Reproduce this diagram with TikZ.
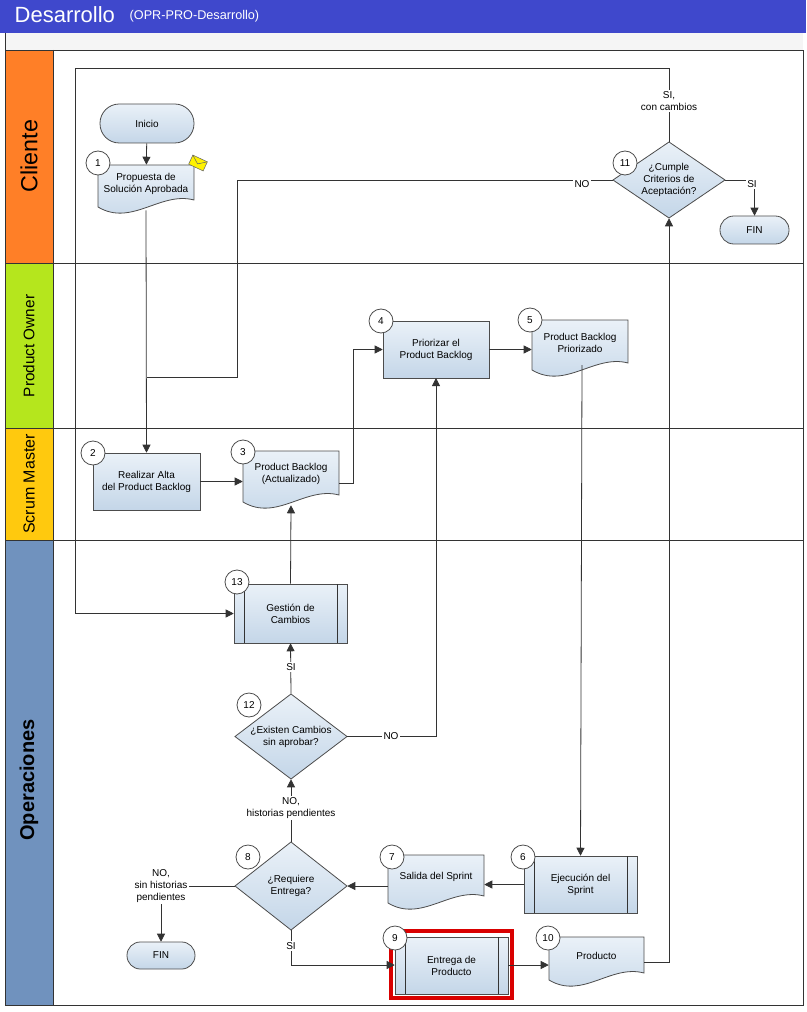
\documentclass[tikz,border=0pt]{standalone}
\usepackage{fontspec}
\setmainfont{Liberation Sans}
\usetikzlibrary{arrows.meta,fit,calc}
\definecolor{hdr}{HTML}{3F48CC}
\definecolor{cOr}{HTML}{FF7F27}
\definecolor{cGr}{HTML}{B5E61D}
\definecolor{cYe}{HTML}{FFC90E}
\definecolor{cBl}{HTML}{7092BE}
\definecolor{sfA}{HTML}{EAF1F8}
\definecolor{sfB}{HTML}{C4D6E8}
\tikzset{
 shp/.style={draw=black!70, line width=0.6pt, top color=sfA, bottom color=sfB},
 txt/.style={font=\fontsize{7.5}{9}\selectfont, align=center, inner sep=0},
 num/.style={circle, draw=black!70, fill=white, minimum size=18pt, inner sep=0, font=\fontsize{7.5}{9}\selectfont, line width=0.6pt},
 conn/.style={draw=black!80, line width=0.6pt, -{Triangle[length=6pt,width=6pt]}},
 line/.style={draw=black!80, line width=0.6pt},
 lbl/.style={txt, fill=white, inner sep=1pt},
 box/.style={fit={#1}, inner sep=0, draw=none},
}
% doc: name, x1,y1,x2,y2(wave start), text
\newcommand\docnode[6]{%
 \path[shp] (#2,#3) -- (#2,#5) .. controls ({#2+(#4-#2)*0.35},{#5+20}) and ({#2+(#4-#2)*0.65},{#5-16}) .. (#4,{#5-7}) -- (#4,#3) -- cycle;
 \node[box={(#2,#3)(#4,{#5+3})}] (#1) {};
 \node[txt] at ($(#1.center)+(0,-4)$) {#6};}
\newcommand\procnode[6]{%
 \path[shp] (#2,#3) rectangle (#4,#5);
 \node[box={(#2,#3)(#4,#5)}] (#1) {};
 \node[txt] at (#1.center) {#6};}
\newcommand\subnode[6]{%
 \path[shp] (#2,#3) rectangle (#4,#5);
 \draw[line] ({#2+10},#3) -- ({#2+10},#5) ({#4-10},#3) -- ({#4-10},#5);
 \node[box={(#2,#3)(#4,#5)}] (#1) {};
 \node[txt] at (#1.center) {#6};}
\newcommand\dianode[6]{%
 \path[shp] (#2,{(#3+#5)/2}) -- ({(#2+#4)/2},#3) -- (#4,{(#3+#5)/2}) -- ({(#2+#4)/2},#5) -- cycle;
 \node[box={(#2,#3)(#4,#5)}] (#1) {};
 \node[txt] at (#1.center) {#6};}
\newcommand\termnode[6]{%
 \path[shp, rounded corners={(#5-#3)*0.37pt}] (#2,#3) rectangle (#4,#5);
 \node[box={(#2,#3)(#4,#5)}] (#1) {};
 \node[txt] at (#1.center) {#6};}
\begin{document}
\begin{tikzpicture}[x=0.75pt,y=-0.75pt]
\useasboundingbox (0,0) rectangle (806,1012);
% header
\fill[hdr] (0,0) rectangle (806,33);
\node[anchor=west, text=white, font=\fontsize{16.5}{18}\selectfont] at (10,15) {Desarrollo};
\node[anchor=west, text=white, font=\fontsize{9.5}{11}\selectfont] at (125,16) {(OPR-PRO-Desarrollo)};
\fill[black!4] (5,33) rectangle (803,50);
\draw[line] (5,33) -- (5,1005);
% lanes
\fill[cOr] (5,50) rectangle (53,263);
\fill[cGr] (5,263) rectangle (53,428);
\fill[cYe] (5,428) rectangle (53,540);
\fill[cBl] (5,540) rectangle (53,1005);
\draw[line] (5,50) rectangle (803,1005);
\draw[line] (53,50) -- (53,1005);
\foreach \yy in {263,428,540} \draw[line] (5,\yy) -- (803,\yy);
\node[rotate=90, font=\fontsize{17.5}{20}\selectfont] (lc) at (29,156) {Cliente};
\node[rotate=90, font=\fontsize{11.5}{14}\selectfont] (lp) at (29,346) {Product Owner};
\node[rotate=90, font=\fontsize{12}{14}\selectfont] (ls) at (29,484) {Scrum Master};
\node[rotate=90, font=\bfseries\fontsize{15}{18}\selectfont] (lo) at (29,780) {Operaciones};
% shapes
\termnode{ini}{100}{104}{194}{143}{Inicio}
\docnode{d1}{98}{165}{194}{207}{Propuesta de\\Solución Aprobada}
\dianode{c11}{613}{142}{725}{218}{¿Cumple\\Criterios de\\Aceptación?}
\termnode{fin1}{720}{216}{789}{244}{FIN}
\procnode{p4}{383}{321}{489}{378}{Priorizar el\\Product Backlog}
\docnode{d5}{532}{320}{628}{370}{Product Backlog\\Priorizado}
\procnode{p2}{93}{453}{200}{510}{Realizar Alta\\del Product Backlog}
\docnode{d3}{243}{451}{339}{502}{Product Backlog\\(Actualizado)}
\subnode{s13}{234}{584}{347}{643}{Gestión de\\Cambios}
\dianode{c12}{235}{694}{347}{779}{¿Existen Cambios\\sin aprobar?}
\dianode{c8}{235}{842}{347}{930}{¿Requiere\\Entrega?}
\docnode{d7}{388}{855}{484}{903}{Salida del Sprint}
\subnode{s6}{524}{856}{637}{913}{Ejecución del\\Sprint}
\termnode{fin2}{127}{942}{195}{969}{FIN}
\subnode{s9}{395}{937}{508}{994}{Entrega de\\Producto}
\docnode{d10}{549}{937}{644}{980}{Producto}
\draw[red!85!black, line width=3pt] (391,931) rectangle (512,998);
% envelope
\begin{scope}[shift={(198,163)}, rotate=-25]
\draw[fill=yellow, draw=black!60, line width=0.4pt] (-8,-5) rectangle (8,5);
\draw[draw=black!60, line width=0.4pt] (-8,-5) -- (0,1) -- (8,-5);
\end{scope}
% number circles
\node[num] at (98,163) {1};
\node[num] at (625,163) {11};
\node[num] at (381,321) {4};
\node[num] at (530,320) {5};
\node[num] at (93,453) {2};
\node[num] at (243,452) {3};
\node[num] at (237,582) {13};
\node[num] at (249,705) {12};
\node[num] at (248,857) {8};
\node[num] at (392,857) {7};
\node[num] at (523,857) {6};
\node[num] at (395,938) {9};
\node[num] at (548,938) {10};
% connectors
\draw[conn] (ini) -- (d1);
\draw[conn] (d1.south) -- (p2.north);
\draw[line] (c11.west) -- (237,180) -- (237,377) -- (147,377);
\node[lbl] at (582,184) {NO};
\draw[conn] (c11.east) -| (fin1.north);
\node[lbl] at (752,184) {SI};
\draw[conn] (c11.north) -- (669,68) -- (75,68) |- (s13.west);
\node[lbl] at (669,101) {SI,\\con cambios};
\draw[conn] (p2.east) -- (d3.west |- p2.east);
\draw[conn] (339,483) -- (353,483) |- (p4.west);
\draw[conn] (p4.east) -- (d5.west |- p4.east);
\draw[conn] (582,365) -- (s6.north);
\draw[conn] (s6.west) -- (d7.east |- s6.west);
\draw[conn] (d7.west |- c8.east) -- (c8.east);
\draw[conn] (c8.north) -- (c12.south);
\node[lbl] at (291,808) {NO,\\historias pendientes};
\draw[conn] (c12.north) -- (s13.south);
\node[lbl] at (291,667) {SI};
\draw[conn] (c12.east) -| (436,378);
\node[lbl] at (391,736) {NO};
\draw[conn] (s13.north) -- (d3.south);
\draw[conn] (c8.west) -| (fin2.north);
\node[lbl] at (161,886) {NO,\\sin historias\\pendientes};
\draw[conn] (c8.south) -- (291,965) -- (s9.west |- 0,965);
\node[lbl] at (291,946) {SI};
\draw[conn] (s9.east |- 0,965) -- (d10.west |- 0,965);
\draw[conn] (644,962) -- (669,962) -- (c11.south);
\end{tikzpicture}
\end{document}
